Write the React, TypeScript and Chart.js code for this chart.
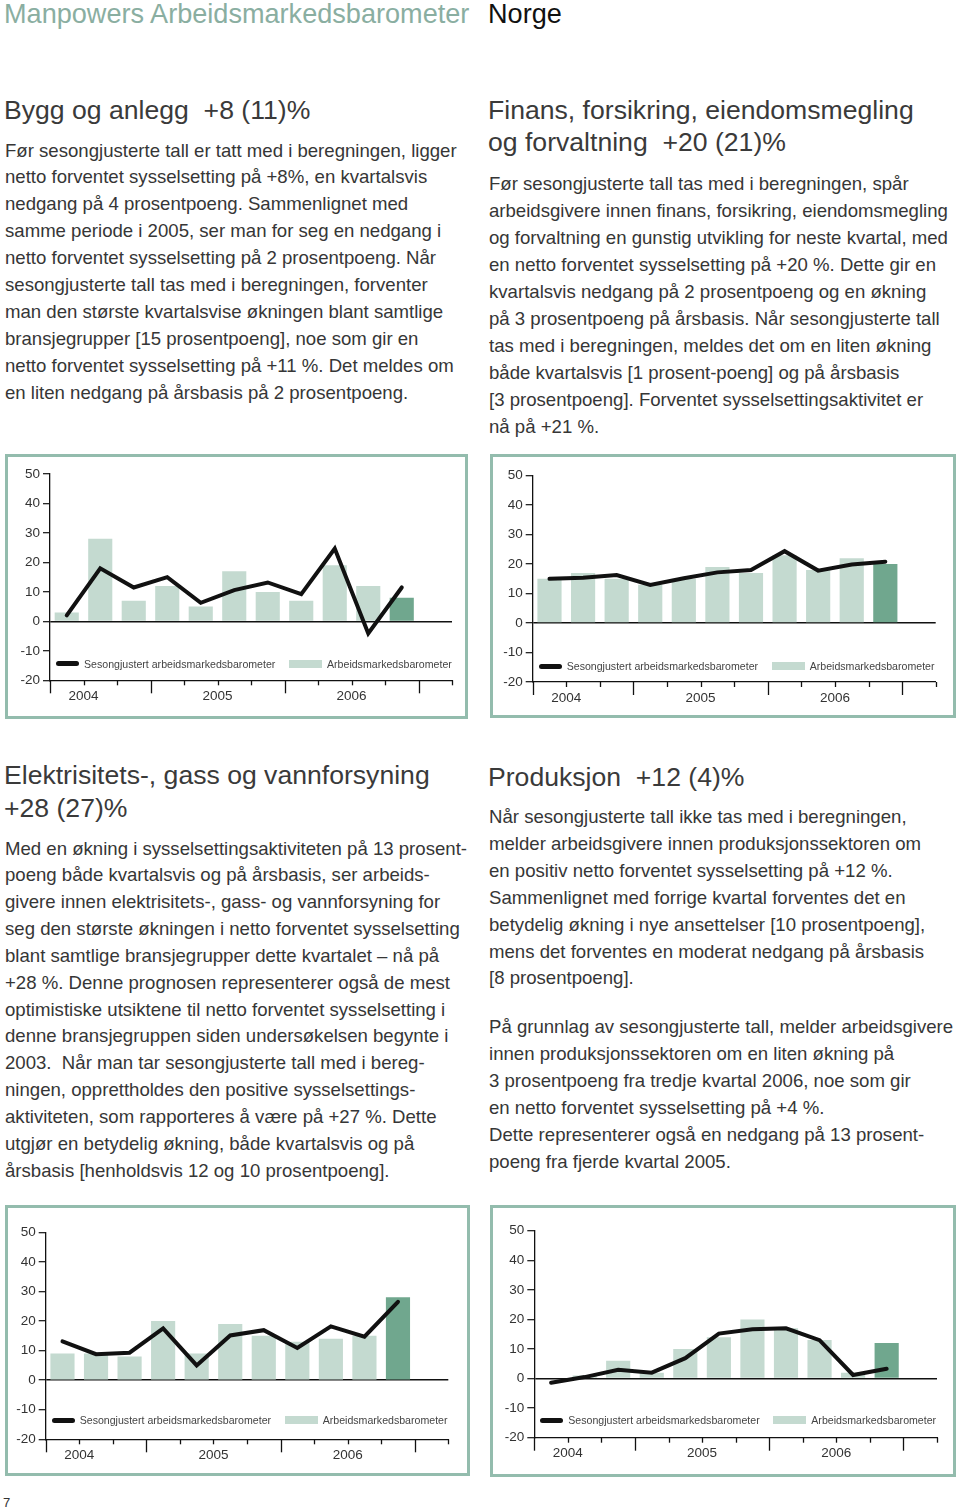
import React, { useEffect, useRef } from "react";
import { Chart, registerables } from "chart.js";

Chart.register(...registerables);

// ---------- data ----------
const QUARTERS = [
  "2004 K1", "2004 K2", "2004 K3", "2004 K4",
  "2005 K1", "2005 K2", "2005 K3", "2005 K4",
  "2006 K1", "2006 K2", "2006 K3", "2006 K4",
];
const YEAR_LABELS = ["2004", "2005", "2006"];
const Y_MIN = -20;
const Y_MAX = 50;
const Y_STEP = 10;

const SERIES_LINE = "Sesongjustert arbeidsmarkedsbarometer";
const SERIES_BAR = "Arbeidsmarkedsbarometer";

const byggBars = [3, 28, 7, 12, 5, 17, 10, 7, 19, 12, 8];
const byggLine = [2, 18, 11.5, 15, 6.3, 10.6, 13.2, 9.2, 24.7, -4.1, 11.5];

const finansBars = [15, 17, 15, 13, 15, 19, 17, 23, 18, 22, 20];
const finansLine = [15, 15.4, 16.3, 12.9, 15.2, 17.2, 18, 24.4, 17.8, 19.9, 20.8];

const elBars = [9, 9, 8, 20, 9, 19, 15, 13, 14, 15, 28];
const elLine = [13.1, 8.8, 9.3, 17.5, 5, 15.1, 16.9, 10.9, 18.2, 14.7, 26.5];

const prodBars = [0, 1, 6, 2, 10, 14, 20, 17, 13, 2, 12];
const prodLine = [-1.4, 0.5, 3, 2, 6.9, 15.2, 16.7, 17, 13, 1.2, 3.3];

// ---------- text ----------
const HEADER_LEFT = "Manpowers Arbeidsmarkedsbarometer";
const HEADER_RIGHT = "Norge";

const byggTitle = ["Bygg og anlegg\u00a0 +8 (11)%"];
const byggText = [
  "Før sesongjusterte tall er tatt med i beregningen, ligger",
  "netto forventet sysselsetting på +8%, en kvartalsvis",
  "nedgang på 4 prosentpoeng. Sammenlignet med",
  "samme periode i 2005, ser man for seg en nedgang i",
  "netto forventet sysselsetting på 2 prosentpoeng. Når",
  "sesongjusterte tall tas med i beregningen, forventer",
  "man den største kvartalsvise økningen blant samtlige",
  "bransjegrupper [15 prosentpoeng], noe som gir en",
  "netto forventet sysselsetting på +11 %. Det meldes om",
  "en liten nedgang på årsbasis på 2 prosentpoeng.",
];

const finansTitle = ["Finans, forsikring, eiendomsmegling", "og forvaltning\u00a0 +20 (21)%"];
const finansText = [
  "Før sesongjusterte tall tas med i beregningen, spår",
  "arbeidsgivere innen finans, forsikring, eiendomsmegling",
  "og forvaltning en gunstig utvikling for neste kvartal, med",
  "en netto forventet sysselsetting på +20 %. Dette gir en",
  "kvartalsvis nedgang på 2 prosentpoeng og en økning",
  "på 3 prosentpoeng på årsbasis. Når sesongjusterte tall",
  "tas med i beregningen, meldes det om en liten økning",
  "både kvartalsvis [1 prosent-poeng] og på årsbasis",
  "[3 prosentpoeng]. Forventet sysselsettingsaktivitet er",
  "nå på +21 %.",
];

const elTitle = ["Elektrisitets-, gass og vannforsyning", "+28 (27)%"];
const elText = [
  "Med en økning i sysselsettingsaktiviteten på 13 prosent-",
  "poeng både kvartalsvis og på årsbasis, ser arbeids-",
  "givere innen elektrisitets-, gass- og vannforsyning for",
  "seg den største økningen i netto forventet sysselsetting",
  "blant samtlige bransjegrupper dette kvartalet – nå på",
  "+28 %. Denne prognosen representerer også de mest",
  "optimistiske utsiktene til netto forventet sysselsetting i",
  "denne bransjegruppen siden undersøkelsen begynte i",
  "2003.\u00a0 Når man tar sesongjusterte tall med i bereg-",
  "ningen, opprettholdes den positive sysselsettings-",
  "aktiviteten, som rapporteres å være på +27 %. Dette",
  "utgjør en betydelig økning, både kvartalsvis og på",
  "årsbasis [henholdsvis 12 og 10 prosentpoeng].",
];

const prodTitle = ["Produksjon\u00a0 +12 (4)%"];
const prodText1 = [
  "Når sesongjusterte tall ikke tas med i beregningen,",
  "melder arbeidsgivere innen produksjonssektoren om",
  "en positiv netto forventet sysselsetting på +12 %.",
  "Sammenlignet med forrige kvartal forventes det en",
  "betydelig økning i nye ansettelser [10 prosentpoeng],",
  "mens det forventes en moderat nedgang på årsbasis",
  "[8 prosentpoeng].",
];
const prodText2 = [
  "På grunnlag av sesongjusterte tall, melder arbeidsgivere",
  "innen produksjonssektoren om en liten økning på",
  "3 prosentpoeng fra tredje kvartal 2006, noe som gir",
  "en netto forventet sysselsetting på +4 %.",
  "Dette representerer også en nedgang på 13 prosent-",
  "poeng fra fjerde kvartal 2005.",
];

// ---------- style ----------
const FONT = "'Liberation Sans', Arial, Helvetica, sans-serif";
const TEXT_COLOR = "#363636";
const TITLE_COLOR = "#3a3a3a";
const HEADER_COLOR = "#8aaea1";
const BORDER_COLOR = "#93bcad";
const BAR_LIGHT = "#c4dad0";
const BAR_DARK = "#70a78e";
const LINE_COLOR = "#111111";

const YEAR_BOUNDARIES = [1, 5, 9];
const LONG_BOUNDARIES = [0, 3, 7, 11];

type Geo = {
  x: number; y: number; w: number; h: number;
  axisX: number; top: number; bottom: number; right: number; legendY: number;
};

const quarterTicks = {
  id: "quarterTicks",
  afterDraw(chart: any) {
    const xs = chart.scales.x;
    const ctx = chart.ctx;
    const base = chart.chartArea.bottom;
    ctx.save();
    ctx.strokeStyle = "#111";
    ctx.lineWidth = 1.3;
    for (let k = 0; k <= QUARTERS.length; k++) {
      const x = Math.round(xs.getPixelForValue(k - 0.5)) + 0.5;
      const len = LONG_BOUNDARIES.includes(k) ? 13 : 5;
      ctx.beginPath();
      ctx.moveTo(x, base);
      ctx.lineTo(x, base + len);
      ctx.stroke();
    }
    ctx.fillStyle = "#333";
    ctx.font = `13.5px ${FONT}`;
    ctx.textAlign = "center";
    ctx.textBaseline = "middle";
    YEAR_LABELS.forEach((lab, i) => {
      ctx.fillText(lab, xs.getPixelForValue(YEAR_BOUNDARIES[i] - 0.5), base + 16);
    });
    ctx.restore();
  },
};

function BarometerChart({ geo, bars, line }: { geo: Geo; bars: number[]; line: number[] }) {
  const ref = useRef<HTMLCanvasElement | null>(null);
  useEffect(() => {
    if (!ref.current) return;
    const left = geo.axisX - geo.x;
    const top = geo.top - geo.y;
    const bottom = geo.bottom - geo.y;
    const right = geo.right - geo.x;
    const colors = bars.map((_, i) => (i === bars.length - 1 ? BAR_DARK : BAR_LIGHT));
    const chart = new Chart(ref.current, {
      data: {
        labels: QUARTERS,
        datasets: [
          {
            type: "line",
            label: SERIES_LINE,
            data: line,
            borderColor: LINE_COLOR,
            borderWidth: 4,
            pointRadius: 0,
            tension: 0,
            fill: false,
            borderCapStyle: "round",
            order: 0,
          } as any,
          {
            type: "bar",
            label: SERIES_BAR,
            data: bars,
            backgroundColor: colors,
            borderWidth: 0,
            barPercentage: 0.72,
            categoryPercentage: 1,
            order: 1,
          } as any,
        ],
      },
      options: {
        responsive: false,
        animation: false,
        layout: { padding: { left: 0, top, right: geo.w - right, bottom: 0 } },
        plugins: { legend: { display: false }, tooltip: { enabled: false } },
        scales: {
          x: {
            type: "category",
            offset: true,
            grid: { display: false },
            ticks: { display: false },
            border: { display: true, color: "#111", width: 1.3 },
            afterFit: (s: any) => { s.height = geo.h - bottom; },
          },
          y: {
            min: Y_MIN,
            max: Y_MAX,
            ticks: { stepSize: Y_STEP, color: "#333", font: { family: FONT, size: 13.5 }, padding: 3 },
            grid: {
              drawOnChartArea: true,
              color: (c: any) => (c.tick && c.tick.value === 0 ? "#111" : "rgba(0,0,0,0)"),
              lineWidth: 1.4,
              tickColor: "#111",
              tickLength: 7,
              tickWidth: 1.2,
            },
            border: { display: true, color: "#111", width: 1.3 },
            afterFit: (s: any) => { s.width = left; },
          },
        },
      } as any,
      plugins: [quarterTicks],
    });
    return () => chart.destroy();
  }, []);

  const lx = geo.axisX;
  return (
    <>
      <div
        style={{
          position: "absolute", left: geo.x, top: geo.y, width: geo.w, height: geo.h,
          border: `3px solid ${BORDER_COLOR}`, boxSizing: "border-box",
        }}
      />
      <canvas
        ref={ref}
        width={geo.w}
        height={geo.h}
        style={{ position: "absolute", left: geo.x, top: geo.y, width: geo.w, height: geo.h, display: "block" }}
      />
      <div style={{ position: "absolute", left: lx + 6, top: geo.legendY - 2.5, width: 23, height: 5, background: LINE_COLOR, borderRadius: 2.5 }} />
      <div style={{ position: "absolute", left: lx + 34, top: geo.legendY - 8, height: 16, lineHeight: "16px", fontSize: 10.6, fontFamily: FONT, color: "#444", whiteSpace: "nowrap" }}>{SERIES_LINE}</div>
      <div style={{ position: "absolute", left: lx + 239, top: geo.legendY - 4, width: 33, height: 8, background: BAR_LIGHT }} />
      <div style={{ position: "absolute", left: lx + 277, top: geo.legendY - 8, height: 16, lineHeight: "16px", fontSize: 10.6, fontFamily: FONT, color: "#444", whiteSpace: "nowrap" }}>{SERIES_BAR}</div>
    </>
  );
}

function Lines({ lines, x, firstCenter, lh, size, color }: { lines: string[]; x: number; firstCenter: number; lh: number; size: number; color: string }) {
  return (
    <div style={{ position: "absolute", left: x, top: firstCenter - lh / 2, fontFamily: FONT, fontSize: size, lineHeight: `${lh}px`, color }}>
      {lines.map((l, i) => (
        <div key={i} style={{ whiteSpace: "pre" }}>{l}</div>
      ))}
    </div>
  );
}

const GEO1: Geo = { x: 5, y: 454, w: 463, h: 265, axisX: 50, top: 474, bottom: 680.3, right: 452, legendY: 663.7 };
const GEO2: Geo = { x: 490, y: 454, w: 466, h: 264, axisX: 532.7, top: 475.7, bottom: 682, right: 935.7, legendY: 666 };
const GEO3: Geo = { x: 5, y: 1205, w: 465, h: 271, axisX: 45.7, top: 1232.3, bottom: 1439.3, right: 448.3, legendY: 1420 };
const GEO4: Geo = { x: 490, y: 1205, w: 466, h: 272, axisX: 534.3, top: 1230.7, bottom: 1437.7, right: 937, legendY: 1420.3 };

export default function App() {
  const BODY = 18.6;
  const TITLE = 26.6;
  return (
    <div style={{ position: "absolute", left: 0, top: 0, width: 960, height: 1509, background: "#fff", overflow: "hidden", fontFamily: FONT }}>
      <div style={{ position: "absolute", left: 4, top: 0, fontSize: 27.1, lineHeight: "28px", color: HEADER_COLOR, whiteSpace: "nowrap" }}>{HEADER_LEFT}</div>
      <div style={{ position: "absolute", left: 488, top: 0, fontSize: 27.1, lineHeight: "28px", color: "#111", whiteSpace: "nowrap" }}>{HEADER_RIGHT}</div>

      <Lines lines={byggTitle} x={4} firstCenter={110} lh={32} size={TITLE} color={TITLE_COLOR} />
      <Lines lines={byggText} x={5} firstCenter={151} lh={26.9} size={BODY} color={TEXT_COLOR} />

      <Lines lines={finansTitle} x={488} firstCenter={110} lh={32} size={TITLE} color={TITLE_COLOR} />
      <Lines lines={finansText} x={489} firstCenter={183} lh={27} size={BODY} color={TEXT_COLOR} />

      <BarometerChart geo={GEO1} bars={byggBars} line={byggLine} />
      <BarometerChart geo={GEO2} bars={finansBars} line={finansLine} />

      <Lines lines={elTitle} x={4} firstCenter={775} lh={33} size={TITLE} color={TITLE_COLOR} />
      <Lines lines={elText} x={5} firstCenter={849} lh={26.83} size={BODY} color={TEXT_COLOR} />

      <Lines lines={prodTitle} x={488} firstCenter={776.5} lh={32} size={TITLE} color={TITLE_COLOR} />
      <Lines lines={prodText1} x={489} firstCenter={817.5} lh={26.9} size={BODY} color={TEXT_COLOR} />
      <Lines lines={prodText2} x={489} firstCenter={1027.5} lh={26.9} size={BODY} color={TEXT_COLOR} />

      <BarometerChart geo={GEO3} bars={elBars} line={elLine} />
      <BarometerChart geo={GEO4} bars={prodBars} line={prodLine} />

      <div style={{ position: "absolute", left: 3, top: 1495, fontSize: 13, lineHeight: "16px", color: "#333" }}>7</div>
    </div>
  );
}
